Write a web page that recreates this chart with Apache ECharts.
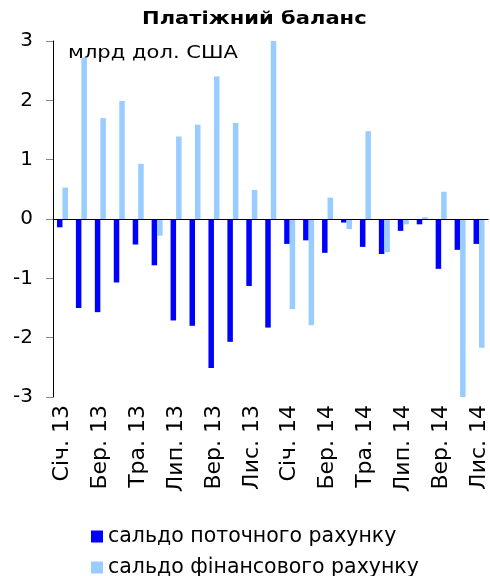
<!DOCTYPE html>
<html>
<head>
<meta charset="utf-8">
<script src="https://cdn.jsdelivr.net/npm/echarts@6/dist/echarts.min.js"></script>
<style>
  html, body { margin: 0; padding: 0; background: #fff; }
  #chart { width: 490px; height: 576px; }
</style>
</head>
<body>
<div id="chart"></div>
<script>
// місяці: січ. 2013 - лис. 2014
const months = ['Січ. 13', 'Лют. 13', 'Бер. 13', 'Кві. 13', 'Тра. 13', 'Чер. 13',
  'Лип. 13', 'Сер. 13', 'Вер. 13', 'Жов. 13', 'Лис. 13', 'Гру. 13',
  'Січ. 14', 'Лют. 14', 'Бер. 14', 'Кві. 14', 'Тра. 14', 'Чер. 14',
  'Лип. 14', 'Сер. 14', 'Вер. 14', 'Жов. 14', 'Лис. 14']
// сальдо поточного рахунку, млрд дол. США
const currentAcc = [-0.14, -1.50, -1.57, -1.07, -0.43, -0.78, -1.71, -1.80, -2.51, -2.07, -1.13, -1.83,
  -0.42, -0.36, -0.57, -0.06, -0.47, -0.59, -0.20, -0.09, -0.84, -0.52, -0.42]
// сальдо фінансового рахунку
const financialAcc = [0.53, 2.72, 1.70, 1.99, 0.93, -0.28, 1.39, 1.59, 2.40, 1.62, 0.49, 3.00,
  -1.52, -1.79, 0.36, -0.17, 1.48, -0.56, -0.09, 0.03, 0.46, -3.00, -2.17]
const yTicks = [-3, -2, -1, 0, 1, 2, 3]
const names = ['сальдо поточного рахунку', 'сальдо фінансового рахунку']

const font = 'DejaVu Sans'
const chart = echarts.init(document.getElementById('chart'))

// кожен рядок легенди окремо, щоб стояли один під одним
const legendRow = (name, top) => ({
  left: 91,
  top: top,
  padding: 0,
  itemWidth: 12,
  itemHeight: 12,
  icon: 'rect',
  textStyle: { fontFamily: font, fontSize: 20.5, lineHeight: 20, color: '#000' },
  data: [name]
})

const option = {
  animation: false,
  textStyle: { fontFamily: font },
  // заголовок і одиниці трохи розтягнуті по горизонталі, як в оригіналі
  graphic: [
    {
      type: 'text',
      x: 142,
      y: 10,
      scaleX: 1.17,
      style: { text: 'Платіжний баланс', font: 'bold 18px "DejaVu Sans"', fill: '#000' }
    },
    {
      type: 'text',
      x: 68,
      y: 44,
      scaleX: 1.17,
      style: { text: 'млрд дол. США', font: '18px "DejaVu Sans"', fill: '#000' }
    }
  ],
  grid: { left: 53, right: 0, top: 41, bottom: 179, containLabel: false },
  legend: [legendRow(names[0], 526), legendRow(names[1], 557)],
  xAxis: {
    type: 'category',
    data: months,
    axisLine: { show: false },
    axisTick: { show: false },
    axisLabel: {
      interval: 1,
      rotate: 90,
      margin: 8,
      fontSize: 22,
      color: '#000',
      fontFamily: font
    }
  },
  yAxis: {
    type: 'value',
    min: yTicks[0],
    max: yTicks[yTicks.length - 1],
    interval: 1,
    axisLine: { show: true, lineStyle: { color: '#000' } },
    axisTick: { show: true, length: 7, lineStyle: { color: '#888' } },
    splitLine: { show: false },
    axisLabel: { fontSize: 20, color: '#000', margin: 20, fontFamily: font }
  },
  series: [
    {
      name: names[0],
      type: 'bar',
      data: currentAcc,
      barWidth: 5.5,
      barGap: '0%',
      itemStyle: { color: '#0000FF' },
      markLine: {
        silent: true,
        symbol: 'none',
        label: { show: false },
        lineStyle: { color: '#000', type: 'solid', width: 1 },
        data: [{ yAxis: 0 }]
      }
    },
    {
      name: names[1],
      type: 'bar',
      data: financialAcc,
      barWidth: 5.5,
      itemStyle: { color: '#99CCFF' }
    }
  ]
}
chart.setOption(option)
</script>
</body>
</html>
